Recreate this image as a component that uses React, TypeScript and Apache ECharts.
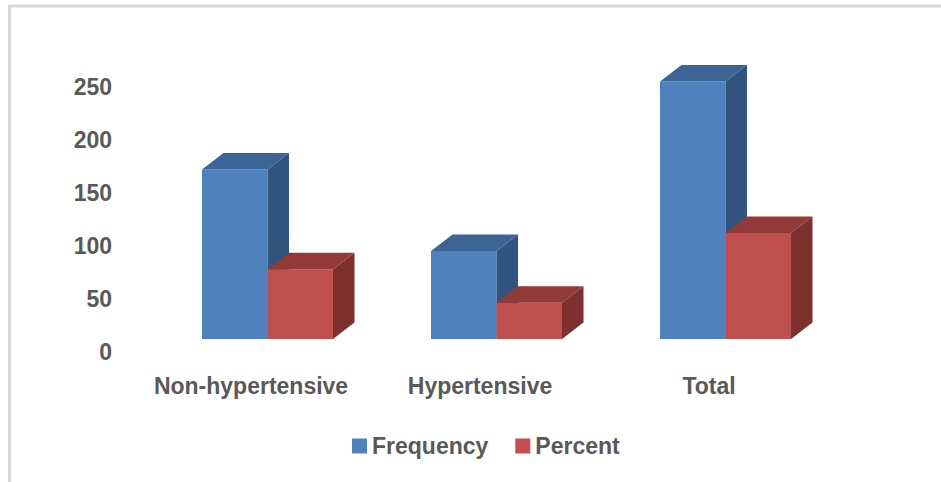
import React, { useEffect, useRef } from "react";
import * as echarts from "echarts";

const categories = ["Non-hypertensive", "Hypertensive", "Total"];
const frequency = [160, 83, 243];
const percent = [65.8, 34.2, 100];
const yTicks = { min: 0, max: 250, interval: 50 };

const FONT = "'Liberation Sans', Arial, sans-serif";
const TEXT = "#595959";

// Shading for each 3D column: front, top and side faces
const BLUE = { front: "#4F81BD", top: "#3C6595", side: "#32557F" };
const RED = { front: "#C0504D", top: "#923A38", side: "#7D302E" };

const BAR_RATIO = 65.5 / 229; // column width as a share of the category band
const DEPTH_X = 21.5;
const DEPTH_Y = 16.5;

function columnRenderer(side: "left" | "right", pal: typeof BLUE) {
  return (_params: any, api: any) => {
    const cat = api.value(0);
    const v = api.value(1);
    const top = api.coord([cat, v]);
    const base = api.coord([cat, 0]);
    const band = api.size([1, 0])[0];
    const w = band * BAR_RATIO;
    const x0 = side === "left" ? top[0] - w : top[0];
    const x1 = x0 + w;
    const yT = top[1];
    const yB = base[1];
    return {
      type: "group",
      children: [
        {
          type: "rect",
          shape: { x: x0, y: yT, width: w, height: yB - yT },
          style: { fill: pal.front },
        },
        {
          type: "polygon",
          shape: {
            points: [
              [x0, yT],
              [x0 + DEPTH_X, yT - DEPTH_Y],
              [x1 + DEPTH_X, yT - DEPTH_Y],
              [x1, yT],
            ],
          },
          style: { fill: pal.top },
        },
        {
          type: "polygon",
          shape: {
            points: [
              [x1, yT],
              [x1 + DEPTH_X, yT - DEPTH_Y],
              [x1 + DEPTH_X, yB - DEPTH_Y],
              [x1, yB],
            ],
          },
          style: { fill: pal.side },
        },
      ],
    };
  };
}

export default function App() {
  const ref = useRef<HTMLDivElement>(null);

  useEffect(() => {
    if (!ref.current) return;
    const chart = echarts.init(ref.current, undefined, { renderer: "svg" });
    const labelStyle = { color: TEXT, fontFamily: FONT, fontWeight: "bold" as const, fontSize: 23 };

    chart.setOption({
      animation: false,
      backgroundColor: "#ffffff",
      graphic: [
        {
          type: "line",
          shape: { x1: 9.5, y1: 5, x2: 9.5, y2: 482 },
          style: { stroke: "#D9D9D9", lineWidth: 3 },
        },
        {
          type: "line",
          shape: { x1: 8, y1: 6, x2: 941, y2: 6 },
          style: { stroke: "#D9D9D9", lineWidth: 3 },
        },
      ],
      legend: {
        left: 352,
        top: 434.5,
        padding: 0,
        icon: "rect",
        itemWidth: 15,
        itemHeight: 15,
        itemGap: 27,
        textStyle: labelStyle,
        data: [
          { name: "Frequency", itemStyle: { color: BLUE.front } },
          { name: "Percent", itemStyle: { color: RED.front } },
        ],
      },
      grid: [
        { left: 136.5, right: 117.5, top: 87, bottom: 130 },
        { left: 153, right: 101, top: 74, bottom: 143 },
      ],
      xAxis: [
        {
          gridIndex: 0,
          type: "category",
          data: categories,
          axisLine: { show: false },
          axisTick: { show: false },
          axisLabel: { ...labelStyle, margin: 22.5, interval: 0 },
        },
        {
          gridIndex: 1,
          type: "category",
          data: categories,
          show: false,
        },
      ],
      yAxis: [
        {
          gridIndex: 0,
          type: "value",
          ...yTicks,
          splitLine: { show: false },
          axisLine: { show: false },
          axisTick: { show: false },
          axisLabel: { ...labelStyle, margin: 24.5 },
        },
        {
          gridIndex: 1,
          type: "value",
          ...yTicks,
          show: false,
          splitLine: { show: false },
        },
      ],
      series: [
        {
          name: "Frequency",
          type: "custom",
          xAxisIndex: 1,
          yAxisIndex: 1,
          itemStyle: { color: BLUE.front },
          renderItem: columnRenderer("left", BLUE),
          encode: { x: 0, y: 1 },
          data: frequency.map((v, i) => [i, v]),
        },
        {
          name: "Percent",
          type: "custom",
          xAxisIndex: 1,
          yAxisIndex: 1,
          itemStyle: { color: RED.front },
          renderItem: columnRenderer("right", RED),
          encode: { x: 0, y: 1 },
          data: percent.map((v, i) => [i, v]),
        },
      ],
    });

    return () => chart.dispose();
  }, []);

  return (
    <div
      ref={ref}
      style={{ position: "absolute", left: 0, top: 0, width: 941, height: 482 }}
    />
  );
}
